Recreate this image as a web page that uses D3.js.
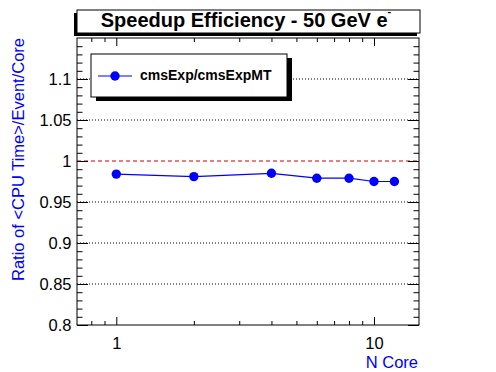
<!DOCTYPE html>
<html>
<head>
<meta charset="utf-8">
<script src="https://cdn.jsdelivr.net/npm/d3@7"></script>
<style>
  body { margin: 0; background: #fff; }
  text { font-family: "Liberation Sans", Arial, sans-serif; }
</style>
</head>
<body>
<svg width="496" height="372"></svg>
<script>
const svg = d3.select("svg");

// data
const nCores = [1, 2, 4, 6, 8, 10, 12];
const ratio = [0.984, 0.981, 0.985, 0.979, 0.979, 0.975, 0.975];

const xMajor = [1, 10];
const xMinor = [0.8, 0.9, 2, 3, 4, 5, 6, 7, 8, 9];
const yMajor = [0.8, 0.85, 0.9, 0.95, 1, 1.05, 1.1];
const yGrid = [0.85, 0.9, 0.95, 1.05, 1.1];
const yLabels = ["0.8", "0.85", "0.9", "0.95", "1", "1.05", "1.1"];
const yMinor = d3.range(80, 116).map(v => v / 100).filter(v => Math.round(v * 100) % 5 !== 0);

const fL = 77, fR = 419, fT = 38, fB = 325;

const x = d3.scaleLog().domain([0.704, 14.95]).range([fL, fR]);
const y = d3.scaleLinear().domain([0.8, 1.15]).range([fB, fT]);

// title box with shadow
svg.append("rect").attr("x", 74).attr("y", 13).attr("width", 343).attr("height", 23).attr("fill", "#000");
svg.append("rect").attr("x", 77).attr("y", 10).attr("width", 343).attr("height", 23)
  .attr("fill", "#fff").attr("stroke", "#000").attr("stroke-width", 1);
const title = svg.append("text")
  .attr("x", 246).attr("y", 27)
  .attr("text-anchor", "middle")
  .attr("font-size", 20).attr("font-weight", "bold");
title.append("tspan").text("Speedup Efficiency - 50 GeV e");
title.append("tspan").attr("font-size", 11).attr("dy", -12).text("-");

// grid
svg.append("g").selectAll("line").data(yGrid).join("line")
  .attr("x1", fL).attr("x2", fR)
  .attr("y1", d => y(d)).attr("y2", d => y(d))
  .attr("stroke", "#000").attr("stroke-dasharray", "1,2");

svg.append("line")
  .attr("x1", fL).attr("x2", fR)
  .attr("y1", y(1)).attr("y2", y(1))
  .attr("stroke", "#c00").attr("stroke-dasharray", "4,3");

// axes
const styleAxis = g => {
  g.select(".domain").remove();
  g.selectAll("line").attr("stroke", "#000");
  g.selectAll("text").attr("fill", "#000").attr("font-size", 16.5)
    .attr("font-family", "Liberation Sans, Arial, sans-serif");
};

svg.append("g").attr("transform", `translate(${fL},0)`)
  .call(d3.axisLeft(y).tickValues(yMajor).tickSize(-11).tickPadding(5.5)
    .tickFormat((d, i) => yLabels[i]))
  .call(styleAxis);
svg.append("g").attr("transform", `translate(${fL},0)`)
  .call(d3.axisLeft(y).tickValues(yMinor).tickSize(-5.5).tickFormat(""))
  .call(styleAxis);
svg.append("g").attr("transform", `translate(${fR},0)`)
  .call(d3.axisRight(y).tickValues(yMajor).tickSize(-11).tickFormat(""))
  .call(styleAxis);
svg.append("g").attr("transform", `translate(${fR},0)`)
  .call(d3.axisRight(y).tickValues(yMinor).tickSize(-5.5).tickFormat(""))
  .call(styleAxis);

svg.append("g").attr("transform", `translate(0,${fB})`)
  .call(d3.axisBottom(x).tickValues(xMajor).tickSize(-8).tickPadding(12).tickFormat(d3.format("d")))
  .call(styleAxis);
svg.append("g").attr("transform", `translate(0,${fB})`)
  .call(d3.axisBottom(x).tickValues(xMinor).tickSize(-4).tickFormat(""))
  .call(styleAxis);
svg.append("g").attr("transform", `translate(0,${fT})`)
  .call(d3.axisTop(x).tickValues(xMajor).tickSize(-8).tickFormat(""))
  .call(styleAxis);
svg.append("g").attr("transform", `translate(0,${fT})`)
  .call(d3.axisTop(x).tickValues(xMinor).tickSize(-4).tickFormat(""))
  .call(styleAxis);

// frame
svg.append("rect").attr("x", fL).attr("y", fT)
  .attr("width", fR - fL).attr("height", fB - fT)
  .attr("fill", "none").attr("stroke", "#000");

// axis titles
svg.append("text")
  .attr("x", 418).attr("y", 368)
  .attr("text-anchor", "end").attr("font-size", 16.5).attr("fill", "#00f")
  .text("N Core");
svg.append("text")
  .attr("transform", "translate(24,38) rotate(-90)")
  .attr("text-anchor", "end").attr("font-size", 16.5).attr("fill", "#00f")
  .text("Ratio of <CPU Time>/Event/Core");

// series
const pts = nCores.map((n, i) => [n, ratio[i]]);
svg.append("path").datum(pts)
  .attr("fill", "none").attr("stroke", "#00f").attr("stroke-width", 1.2)
  .attr("d", d3.line().x(d => x(d[0])).y(d => y(d[1])));
svg.append("g").selectAll("circle").data(pts).join("circle")
  .attr("cx", d => x(d[0])).attr("cy", d => y(d[1]))
  .attr("r", 4.7).attr("fill", "#00f");

// legend
svg.append("rect").attr("x", 96).attr("y", 58).attr("width", 196).attr("height", 43).attr("fill", "#000");
svg.append("rect").attr("x", 91).attr("y", 54).attr("width", 196).attr("height", 43)
  .attr("fill", "#fff").attr("stroke", "#000");
svg.append("line").attr("x1", 98).attr("x2", 132).attr("y1", 76).attr("y2", 76)
  .attr("stroke", "#00f").attr("stroke-width", 1.2);
svg.append("circle").attr("cx", 115).attr("cy", 76).attr("r", 4.7).attr("fill", "#00f");
svg.append("text").attr("x", 140).attr("y", 80)
  .attr("font-size", 14).attr("font-weight", "bold")
  .text("cmsExp/cmsExpMT");
</script>
</body>
</html>
